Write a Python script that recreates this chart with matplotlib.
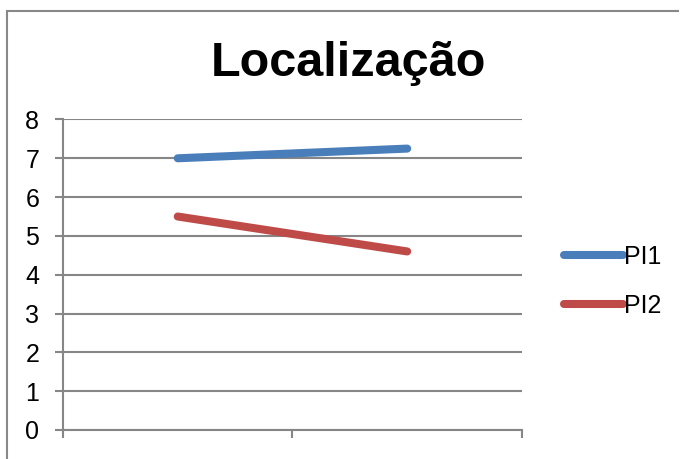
import matplotlib.pyplot as plt
from matplotlib.lines import Line2D

plt.rcParams['font.family'] = ['Liberation Sans', 'DejaVu Sans']

#%% Data
categories = [0.5, 1.5]
pi1 = [7.0, 7.25]
pi2 = [5.5, 4.6]
series_names = ['PI1', 'PI2']
series_colors = ['#4A7EBB', '#BE4B48']
grid_color = '#868686'

#%% Figure
fig = plt.figure(figsize=[6.8, 4.59], dpi=100)
ax = fig.add_axes([0.0926, 0.0632, 0.675, 0.6765])

for y, name, c in zip([pi1, pi2], series_names, series_colors):
    ax.plot(categories, y, color=c, lw=5.8, solid_capstyle='round', label=name, zorder=3)

ax.set_xlim(0, 2)
ax.set_ylim(0, 8)
ax.set_yticks(range(9))
ax.set_xticks([0, 1, 2])
ax.set_xticklabels([])
ax.grid(axis='y', color=grid_color, lw=1.5)
ax.set_axisbelow(True)
for s in ['top', 'right']:
    ax.spines[s].set_visible(False)
for s in ['left', 'bottom']:
    ax.spines[s].set_color(grid_color)
    ax.spines[s].set_linewidth(1.5)
ax.tick_params(axis='y', colors=grid_color, labelcolor='black', labelsize=18, length=6, width=1.5, pad=11)
ax.tick_params(axis='x', colors=grid_color, length=6, width=1.5)

fig.text(0.512, 0.835, 'Localização', fontsize=35, fontweight='bold', ha='center', va='baseline')

fig.legend(loc='center left', bbox_to_anchor=(0.811, 0.387), frameon=False, fontsize=18,
           handlelength=2.35, handletextpad=0.05, labelspacing=0.98, borderpad=0)

# outer chart frame: left and top edges
fx, fy = 7/680, 1 - 11/459
fig.add_artist(Line2D([fx, fx], [0.0, fy], color='#888888', lw=1.5, solid_capstyle='projecting'))
fig.add_artist(Line2D([fx, 0.999], [fy, fy], color='#888888', lw=1.5, solid_capstyle='butt'))

plt.savefig('out.png', dpi=100)
